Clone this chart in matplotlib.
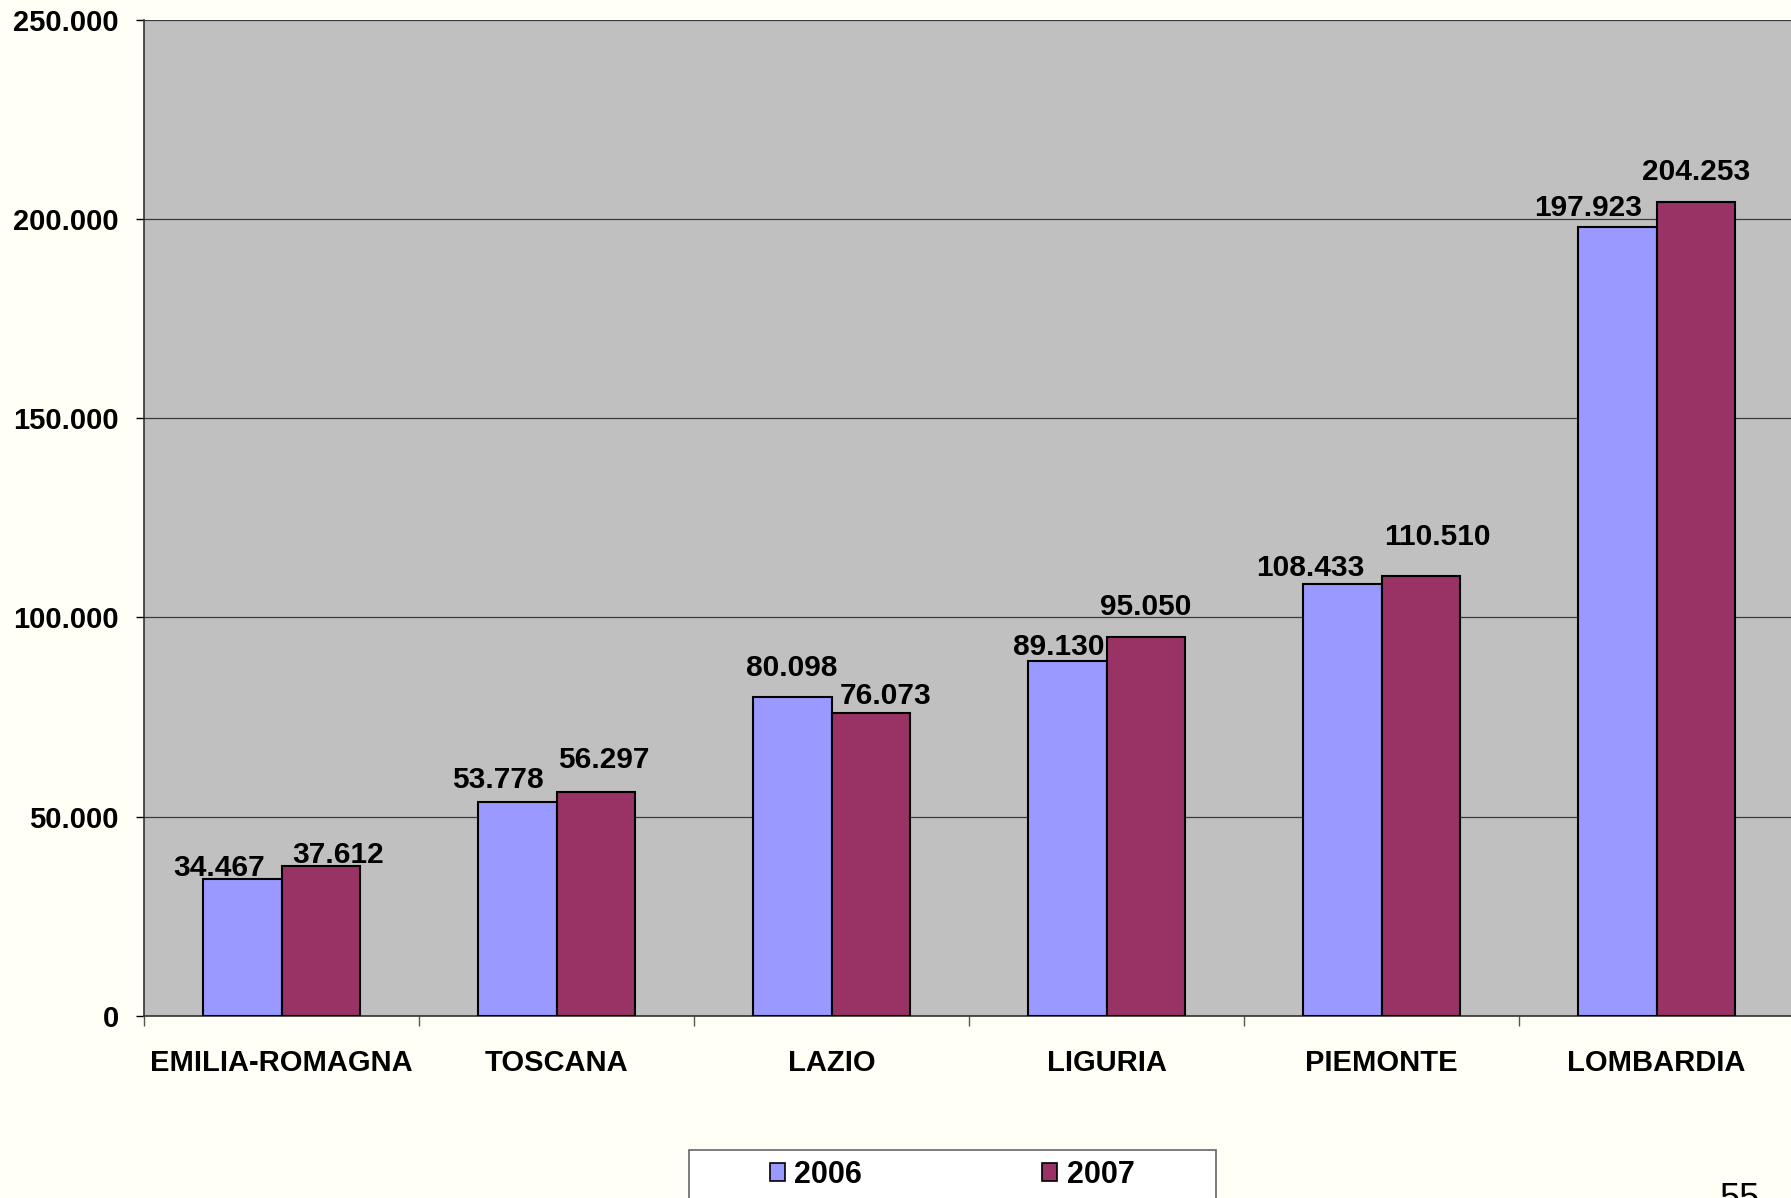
import numpy as np
import matplotlib.pyplot as plt
from matplotlib.ticker import FuncFormatter
from matplotlib.patches import Rectangle

regioni = ['EMILIA-ROMAGNA', 'TOSCANA', 'LAZIO', 'LIGURIA', 'PIEMONTE', 'LOMBARDIA']
v2006 = [34467, 53778, 80098, 89130, 108433, 197923]
v2007 = [37612, 56297, 76073, 95050, 110510, 204253]
anni = ['2006', '2007']

# spostamenti etichette (pixel) come nel grafico originale
dx06 = [-23, -19, 0, -8, -32, -29]
dy06 = [11, 22, 29, 14, 16, 19]
dx07 = [17, 8, 15, 0, 16, 0]
dy07 = [11, 32, 17, 30, 39, 30]

col06 = '#9999FF'
col07 = '#993366'
sfondo = '#FFFFF5'

fig = plt.figure(figsize=(17.91, 11.98), dpi=100, facecolor=sfondo)
ax = fig.add_axes([0.0804, 0.1519, 0.9213, 0.8318])
ax.set_facecolor('#C0C0C0')

x = np.arange(len(regioni))
w = 0.287
b1 = ax.bar(x - w/2, v2006, w, color=col06, edgecolor='black', linewidth=1.5, zorder=3, label=anni[0])
b2 = ax.bar(x + w/2, v2007, w, color=col07, edgecolor='black', linewidth=1.5, zorder=3, label=anni[1])

fmt = lambda v: f'{v:,.0f}'.replace(',', '.')
for i in range(len(regioni)):
    ax.annotate(fmt(v2006[i]), (x[i] - w/2, v2006[i]), xytext=(dx06[i], dy06[i]),
                textcoords='offset pixels', ha='center', va='center',
                fontsize=21.5, fontweight='bold', family='Liberation Sans', zorder=5)
    ax.annotate(fmt(v2007[i]), (x[i] + w/2, v2007[i]), xytext=(dx07[i], dy07[i]),
                textcoords='offset pixels', ha='center', va='center',
                fontsize=21.5, fontweight='bold', family='Liberation Sans', zorder=5)

ax.set_xlim(-0.5, len(regioni) - 0.5)
ax.set_ylim(0, 250000)
ax.set_yticks(np.arange(0, 250001, 50000))
ax.yaxis.set_major_formatter(FuncFormatter(lambda v, p: fmt(v)))
ax.grid(axis='y', color='#3a3a3a', linewidth=0.9, zorder=1)

ax.set_xticks(x)
ax.set_xticklabels(regioni)
ax.set_xticks(np.arange(-0.5, len(regioni)), minor=True)
ax.tick_params(axis='x', which='major', length=0, pad=24)
ax.tick_params(axis='x', which='minor', length=7, width=1, color='#555555')
ax.tick_params(axis='y', length=6, width=1, pad=12)

for lab in ax.get_xticklabels():
    lab.set_fontsize(21)
    lab.set_fontweight('bold')
    lab.set_family('Liberation Sans')
for lab in ax.get_yticklabels():
    lab.set_fontsize(21)
    lab.set_fontweight('bold')
    lab.set_family('Liberation Sans')

ax.spines['top'].set_visible(False)
ax.spines['right'].set_visible(False)
ax.spines['left'].set_color('#333333')
ax.spines['bottom'].set_color('#333333')
ax.spines['left'].set_linewidth(1.2)
ax.spines['bottom'].set_linewidth(1.2)

# riquadro della legenda (tagliato in basso come nell'originale)
fig.patches.append(Rectangle((689/1791, -0.02), (1216-689)/1791, 48/1198 + 0.02,
                             transform=fig.transFigure, facecolor='white',
                             edgecolor='#666666', linewidth=1.2, zorder=1))
leg = fig.legend(handles=[b1, b2], labels=anni, loc='center',
                 bbox_to_anchor=(952/1791, 1 - 1175/1198),
                 ncol=2, frameon=False,
                 prop={'family': 'Liberation Sans', 'weight': 'bold', 'size': 22},
                 handlelength=0.5, handleheight=0.5, handletextpad=0.3,
                 columnspacing=5.9, borderpad=0, borderaxespad=0)
for h in leg.legend_handles:
    h.set_linewidth(1.2)

fig.text(1740/1791, 1 - 1182/1198, '55', ha='center', va='top', fontsize=26,
         family='Liberation Sans')

plt.savefig('out.png', dpi=100, facecolor=sfondo)
